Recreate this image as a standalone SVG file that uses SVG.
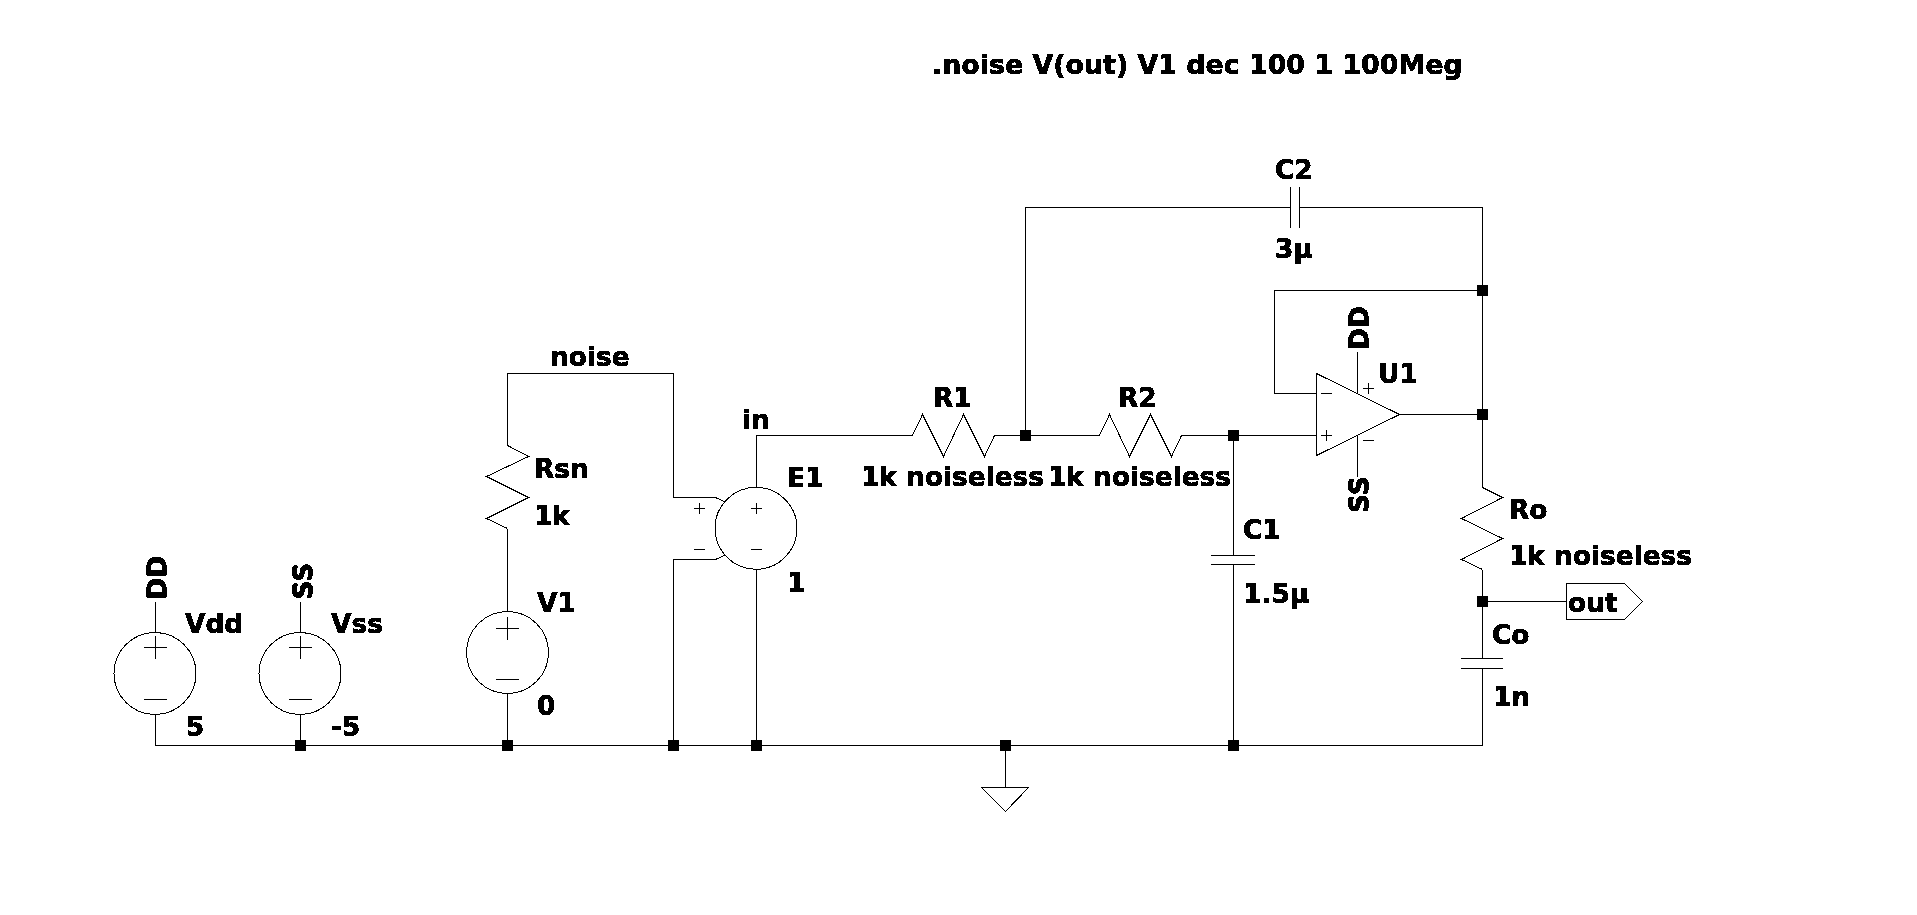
<svg xmlns="http://www.w3.org/2000/svg" width="1917" height="915" viewBox="0 0 1917 915">
<style>
.s{fill:none;stroke:#000;stroke-width:1;shape-rendering:crispEdges}
.t{font-family:"DejaVu Sans","Liberation Sans",sans-serif;font-weight:700;font-size:26.4px;fill:#000;stroke:#000;stroke-width:.35px}
.j{fill:#000;shape-rendering:crispEdges}
</style>
<defs>
<filter id="crisp" x="-5%" y="-20%" width="110%" height="140%" color-interpolation-filters="sRGB"><feComponentTransfer><feFuncA type="discrete" tableValues="0 1 1"/></feComponentTransfer></filter>
</defs>
<rect width="1917" height="915" fill="#fff"/>
<g id="connectors" class="s">
<path d="M155.5 714.5V745.5H1482.5V668.5"/>
<path d="M300.5 714.5V745.5"/>
<path d="M507.5 693.5V745.5"/>
<path d="M507.5 445.5V373.5H673.5V497.5H715.5"/>
<path d="M507.5 528.5V611.5"/>
<path d="M673.5 745.5V559.5H715.5"/>
<path d="M756.5 569.5V745.5"/>
<path d="M756.5 487.5V435.5H912.5"/>
<path d="M994.5 435.5H1099.5"/>
<path d="M1181.5 435.5H1316.5"/>
<path d="M1025.5 435.5V207.5H1290.5"/>
<path d="M1299.5 207.5H1482.5V487.5"/>
<path d="M1482.5 290.5H1274.5V393.5H1316.5"/>
<path d="M1399.5 414.5H1482.5"/>
<path d="M1233.5 435.5V555.5"/>
<path d="M1233.5 564.5V745.5"/>
<path d="M1482.5 569.5V658.5"/>
<path d="M1482.5 601.5H1566.5"/>
<path d="M1005.5 745.5V787.5"/>
<path d="M155.5 601.5V632.5"/>
<path d="M300.5 601.5V632.5"/>
<path d="M1357.5 351.5V393.5"/>
<path d="M1357.5 435.5V476.5"/>
</g>
<g id="junctions" class="j">
<rect x="295" y="740" width="11" height="11"/>
<rect x="502" y="740" width="11" height="11"/>
<rect x="668" y="740" width="11" height="11"/>
<rect x="751" y="740" width="11" height="11"/>
<rect x="1000" y="740" width="11" height="11"/>
<rect x="1228" y="740" width="11" height="11"/>
<rect x="1020" y="430" width="11" height="11"/>
<rect x="1228" y="430" width="11" height="11"/>
<rect x="1477" y="285" width="11" height="11"/>
<rect x="1477" y="409" width="11" height="11"/>
<rect x="1477" y="596" width="11" height="11"/>
</g>
<g id="directive"><text class="t" filter="url(#crisp)" x="932" y="73.5" style="font-size:26.85px">.noise V(out) V1 dec 100 1 100Meg</text></g>
<g id="net-noise"><text class="t" filter="url(#crisp)" x="550" y="366">noise</text></g>
<g id="net-in"><text class="t" filter="url(#crisp)" x="742" y="429">in</text></g>
<g id="Vdd" class="s">
<circle cx="155" cy="673.5" r="41"/>
<path d="M144 647.5H167M155.5 636V659M144 699.5H167"/>
<g><text class="t" filter="url(#crisp)" x="185" y="632.5">Vdd</text><text class="t" filter="url(#crisp)" x="186" y="735.5">5</text><text class="t" filter="url(#crisp)" transform="translate(166.5 599.5) rotate(-90)">DD</text></g>
</g>
<g id="Vss" class="s">
<circle cx="300" cy="673.5" r="41"/>
<path d="M289 647.5H312M300.5 636V659M289 699.5H312"/>
<g><text class="t" filter="url(#crisp)" x="331" y="632.5">Vss</text><text class="t" filter="url(#crisp)" x="331" y="735.5">-5</text><text class="t" filter="url(#crisp)" transform="translate(312.5 599.5) rotate(-90)">SS</text></g>
</g>
<g id="V1" class="s">
<circle cx="507.5" cy="652.5" r="41"/>
<path d="M496 628.5H519M507.5 617V640M496 679.5H519"/>
<g><text class="t" filter="url(#crisp)" x="537" y="611.5">V1</text><text class="t" filter="url(#crisp)" x="537" y="714.5">0</text></g>
</g>
<g id="Rsn" class="s">
<path d="M507.5 445.5L528.5 456.5L486.5 476.5L528.5 497.5L486.5 518.5L507.5 528.5"/>
<g><text class="t" filter="url(#crisp)" x="534" y="477.5">Rsn</text><text class="t" filter="url(#crisp)" x="534" y="524.5">1k</text></g>
</g>
<g id="E1" class="s">
<circle cx="756" cy="528.3" r="41"/>
<path d="M715.5 497.5L725.5 502M715.5 559.5L725.5 555"/>
<path d="M694 508.5H705M699.5 503V514M694 549.5H705M750.5 508.5H761.5M756 503V514M750.5 549.5H761.5"/>
<g><text class="t" filter="url(#crisp)" x="787" y="486.5">E1</text><text class="t" filter="url(#crisp)" x="787" y="591.5">1</text></g>
</g>
<g id="R1" class="s">
<path d="M912.5 435.5L922.5 414.5L943.5 456.5L963.5 414.5L984.5 456.5L994.5 435.5"/>
<g><text class="t" filter="url(#crisp)" x="933" y="406.5">R1</text><text class="t" filter="url(#crisp)" x="861" y="485.5">1k noiseless</text></g>
</g>
<g id="R2" class="s">
<path d="M1099.5 435.5L1109.5 414.5L1129.5 456.5L1150.5 414.5L1171.5 456.5L1181.5 435.5"/>
<g><text class="t" filter="url(#crisp)" x="1118" y="406.5">R2</text><text class="t" filter="url(#crisp)" x="1048" y="485.5">1k noiseless</text></g>
</g>
<g id="C1" class="s">
<path d="M1211 555.5H1255M1211 564.5H1255"/>
<g><text class="t" filter="url(#crisp)" x="1243" y="538.5">C1</text><text class="t" filter="url(#crisp)" x="1243" y="602.5">1.5µ</text></g>
</g>
<g id="C2" class="s">
<path d="M1290.5 187V228M1299.5 187V228"/>
<g><text class="t" filter="url(#crisp)" x="1275" y="178.5">C2</text><text class="t" filter="url(#crisp)" x="1275" y="257.5">3µ</text></g>
</g>
<g id="U1" class="s">
<path d="M1316.5 373.5V455.5L1399.5 414.5Z"/>
<path d="M1321 393.5H1332M1321 435.5H1332M1326.5 430V441M1362.5 388.5H1374M1368.5 383V394M1362.5 440.5H1374"/>
<g><text class="t" filter="url(#crisp)" x="1378" y="382.5">U1</text><text class="t" filter="url(#crisp)" transform="translate(1368.5 350) rotate(-90)">DD</text><text class="t" filter="url(#crisp)" transform="translate(1368.5 513) rotate(-90)">SS</text></g>
</g>
<g id="Ro" class="s">
<path d="M1482.5 487.5L1502.5 497.5L1461.5 518.5L1502.5 538.5L1461.5 559.5L1482.5 569.5"/>
<g><text class="t" filter="url(#crisp)" x="1509" y="518.5">Ro</text><text class="t" filter="url(#crisp)" x="1509" y="564.5">1k noiseless</text></g>
</g>
<g id="Co" class="s">
<path d="M1461 658.5H1503M1461 668.5H1503"/>
<g><text class="t" filter="url(#crisp)" x="1492" y="643.5">Co</text><text class="t" filter="url(#crisp)" x="1493" y="705.5">1n</text></g>
</g>
<g id="out" class="s">
<path d="M1566.5 583.5H1624.5L1642.5 601.5L1624.5 619.5H1566.5Z"/>
<g><text class="t" filter="url(#crisp)" x="1568" y="611.5">out</text></g>
</g>
<g id="gnd" class="s"><path d="M981.5 787.5H1028.5L1005.5 811.5Z"/></g>
</svg>
